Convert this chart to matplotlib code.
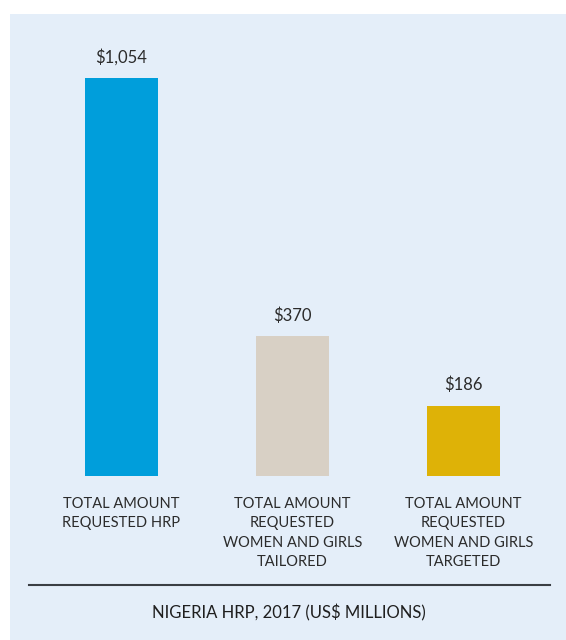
import matplotlib.pyplot as plt
from matplotlib.patches import Rectangle
from matplotlib.lines import Line2D

# Nigeria HRP 2017, US$ millions
categories = ["TOTAL AMOUNT\nREQUESTED HRP",
              "TOTAL AMOUNT\nREQUESTED\nWOMEN AND GIRLS\nTAILORED",
              "TOTAL AMOUNT\nREQUESTED\nWOMEN AND GIRLS\nTARGETED"]
values = [1054, 370, 186]
colors = ["#009EDB", "#D8D0C5", "#DEB207"]

plt.rcParams['font.family'] = ['Lato', 'DejaVu Sans']
W, H = 566, 640
fig = plt.figure(figsize=(W / 100, H / 100), dpi=100, facecolor="white")

# light blue panel
fig.add_artist(Rectangle((10 / W, 0), 1 - 10 / W, 1 - 14 / H, transform=fig.transFigure,
                         facecolor="#E4EEF9", edgecolor="none", zorder=0))

ax = fig.add_axes([28.5 / W, 164 / H, 521.5 / W, 462 / H])
ax.set_facecolor("none")
x = list(range(len(values)))
bars = ax.bar(x, values, width=73 / 171, color=colors, edgecolor="none")
ax.set_xlim(-(121.5 - 28.5) / 171, (550 - 121.5) / 171)
ax.set_ylim(0, 462 / 398 * 1054)
ax.axis("off")

for b, v in zip(bars, values):
    ax.annotate(f"${v:,}", (b.get_x() + b.get_width() / 2, v), xytext=(0, 15),
                textcoords="offset points", ha="center", va="center",
                fontsize=12, color="#2b2b2b")

for i, lab in enumerate(categories):
    ax.text(i, -21 / 462, lab, transform=ax.get_xaxis_transform(), ha="center", va="top",
            fontsize=10.5, color="#2b2b2b", linespacing=1.48)

fig.add_artist(Line2D([28.5 / W, 550 / W], [1 - 585 / H, 1 - 585 / H], transform=fig.transFigure,
                      color="#3a3e44", linewidth=1.5))
fig.text(289 / W, 1 - 613 / H, "NIGERIA HRP, 2017 (US$ MILLIONS)", ha="center", va="center",
         fontsize=12, color="#1f1f1f")

fig.savefig("out.png", dpi=100, facecolor="white")
